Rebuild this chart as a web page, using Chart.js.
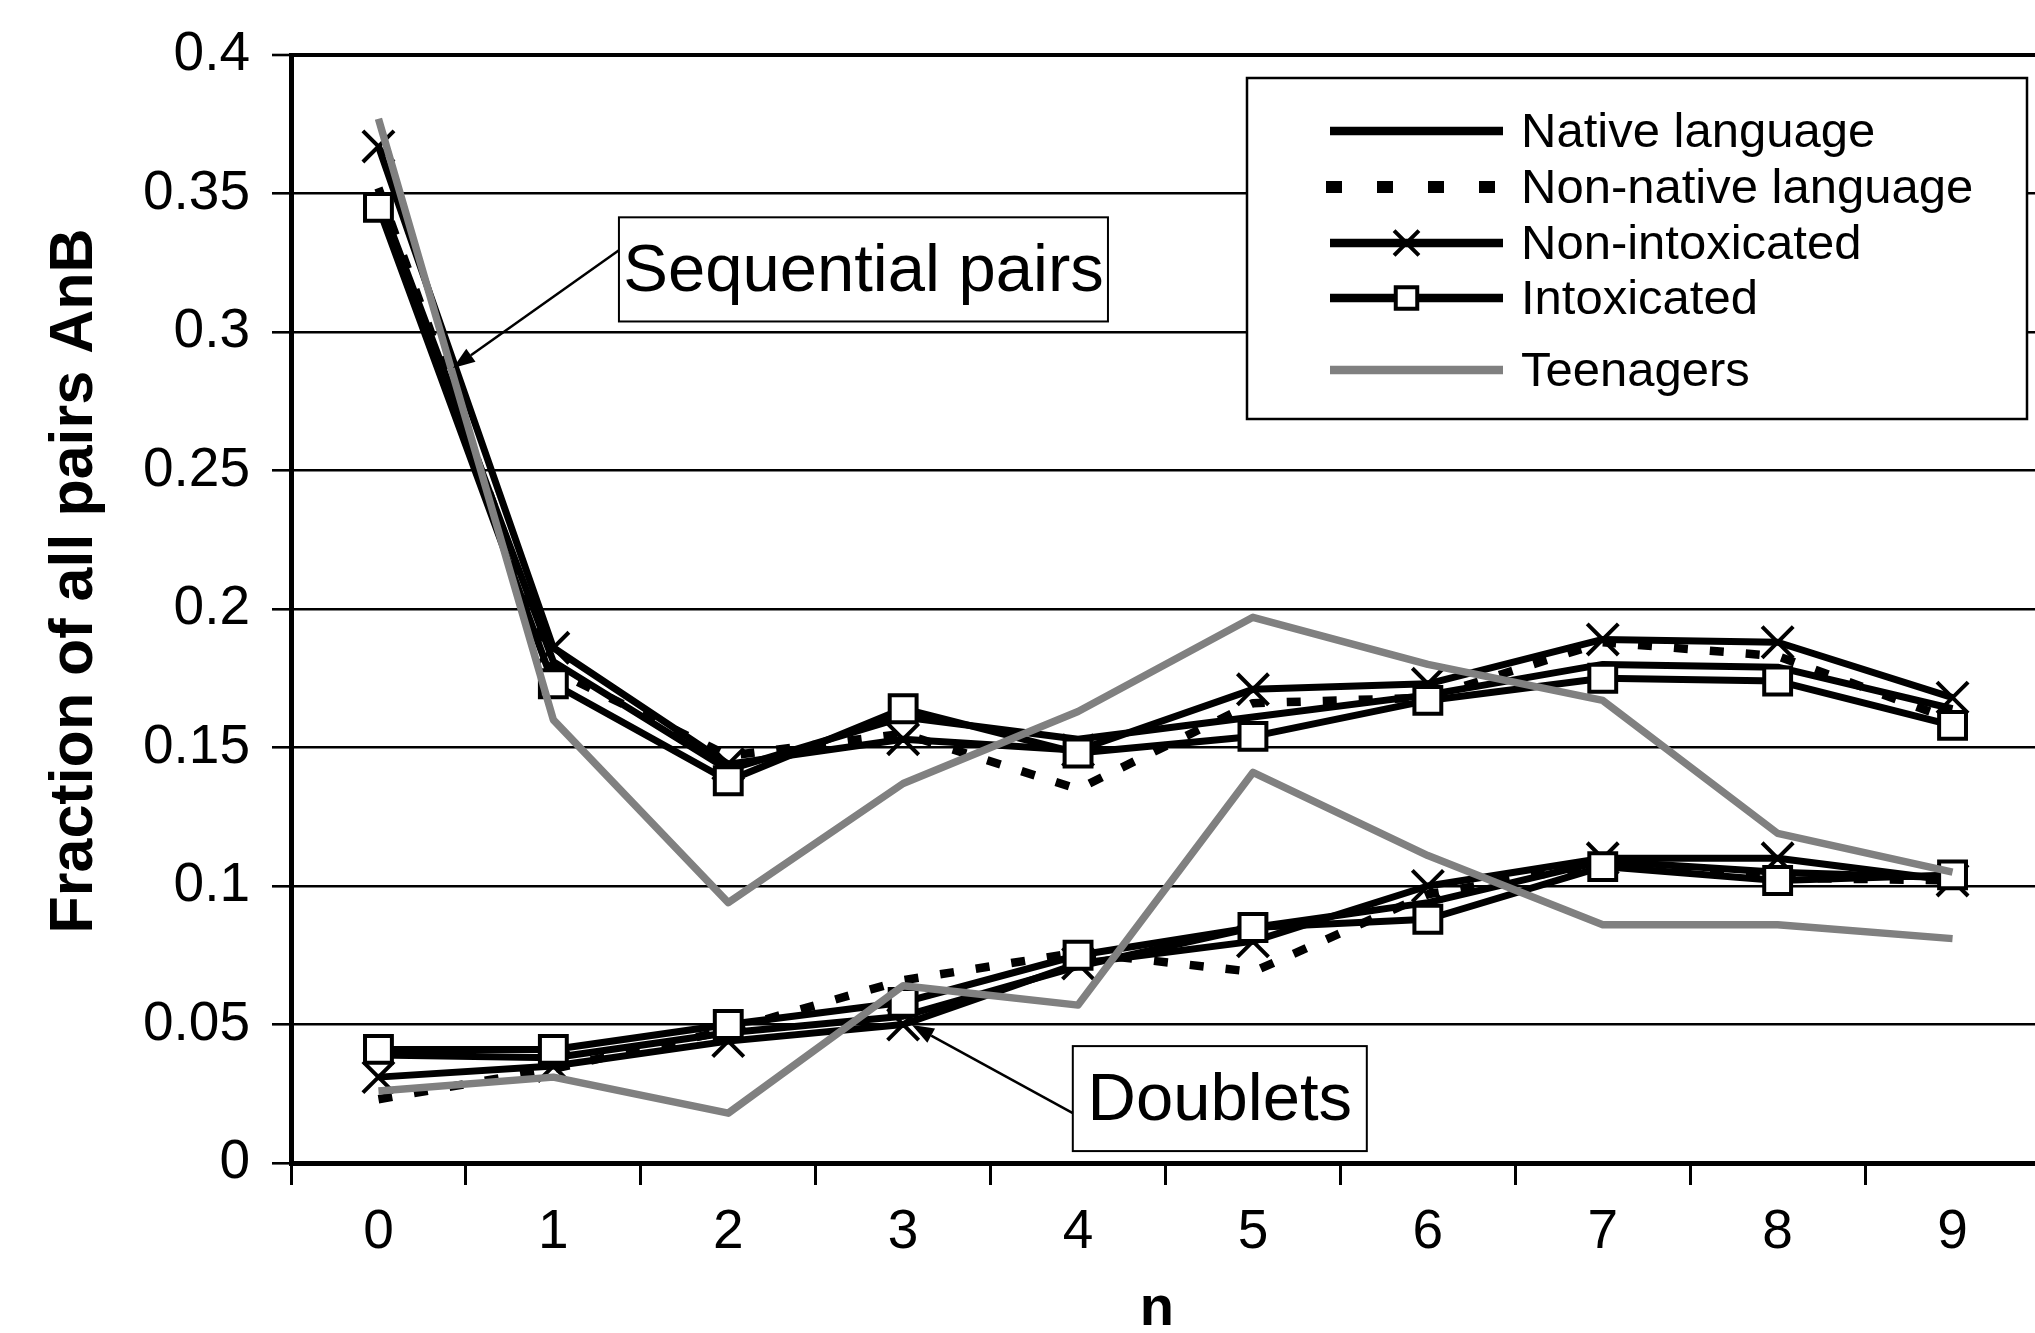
<!DOCTYPE html>
<html><head><meta charset="utf-8">
<script src="https://cdn.jsdelivr.net/npm/chart.js@4.4.1/dist/chart.umd.min.js"></script>
<style>
html,body{margin:0;padding:0;background:#fff;overflow:hidden;width:2035px;height:1333px}
#wrap{position:absolute;left:0;top:0;width:2066px;height:1333px}
</style></head>
<body><div id="wrap"><canvas id="c" width="2066" height="1333"></canvas></div>
<script>
// ---------- data ----------
const categories = ['0','1','2','3','4','5','6','7','8','9'];
const yTickLabels = ['0','0.05','0.1','0.15','0.2','0.25','0.3','0.35','0.4'];
const seriesNames = ['Native language','Non-native language','Non-intoxicated','Intoxicated','Teenagers'];
const xTitle = 'n';
const yTitle = 'Fraction of all pairs AnB';
const annotationTexts = ['Sequential pairs','Doublets'];

// Sequential pairs (upper group)
const seqNative    = [0.349, 0.181, 0.142, 0.161, 0.153, 0.161, 0.169, 0.180, 0.179, 0.164];
const seqNonNative = [0.352, 0.178, 0.147, 0.155, 0.135, 0.166, 0.168, 0.188, 0.183, 0.160];
const seqNonIntox  = [0.367, 0.186, 0.144, 0.153, 0.149, 0.171, 0.173, 0.189, 0.188, 0.168];
const seqIntox     = [0.345, 0.173, 0.138, 0.164, 0.148, 0.154, 0.167, 0.175, 0.174, 0.158];
const seqTeen      = [0.377, 0.160, 0.094, 0.137, 0.163, 0.197, 0.180, 0.167, 0.119, 0.105];

// Doublets (lower group)
const dblNative    = [0.039, 0.038, 0.047, 0.053, 0.071, 0.085, 0.094, 0.109, 0.105, 0.103];
const dblNonNative = [0.023, 0.034, 0.048, 0.066, 0.076, 0.069, 0.097, 0.108, 0.103, 0.102];
const dblNonIntox  = [0.031, 0.035, 0.044, 0.050, 0.072, 0.080, 0.100, 0.110, 0.110, 0.102];
const dblIntox     = [0.041, 0.041, 0.050, 0.058, 0.075, 0.085, 0.088, 0.107, 0.102, 0.104];
const dblTeen      = [0.026, 0.031, 0.018, 0.064, 0.057, 0.141, 0.111, 0.086, 0.086, 0.081];

// ---------- styles ----------
const FONT = "'Liberation Sans', Arial, Helvetica, sans-serif";
const styles = [
  {borderColor:'#000', borderWidth:7, pointRadius:0, borderDash:[]},
  {borderColor:'#000', borderWidth:8.5, pointRadius:0, borderDash:[14,22]},
  {borderColor:'#000', borderWidth:7, pointStyle:'crossRot', pointRadius:22, pointBorderWidth:4, borderDash:[]},
  {borderColor:'#000', borderWidth:7, pointStyle:'rect', pointRadius:19, pointBorderWidth:4, pointBackgroundColor:'#fff', borderDash:[]},
  {borderColor:'#808080', borderWidth:7.5, pointRadius:0, borderDash:[]}
];
const orders = [3,4,2,1,0];

function makeSet(label, data, k){
  const s = styles[k];
  return Object.assign({
    label, data, fill:false, tension:0, order:orders[k],
    pointBorderColor:s.borderColor, pointBackgroundColor:'#fff',
    pointHoverRadius: s.pointRadius, borderCapStyle:'butt', borderJoinStyle:'round'
  }, s);
}
const seqSeries = [seqNative, seqNonNative, seqNonIntox, seqIntox, seqTeen];
const dblSeries = [dblNative, dblNonNative, dblNonIntox, dblIntox, dblTeen];
const datasets = [];
seqSeries.forEach((d,k)=>datasets.push(makeSet(seriesNames[k]+' ('+annotationTexts[0]+')', d, k)));
dblSeries.forEach((d,k)=>datasets.push(makeSet(seriesNames[k]+' ('+annotationTexts[1]+')', d, k)));

// annotation geometry in data coordinates (category index, value)
const annotations = [
  {text:annotationTexts[0], box:[1.375,0.3414,4.171,0.3038], from:[1.375,0.3295], to:[0.426,0.287]},
  {text:annotationTexts[1], box:[3.97,0.0422,5.651,0.0043], from:[3.97,0.018], to:[3.05,0.0498]}
];

function drawMarker(ctx, s, x, y){
  if (!s.pointStyle || !s.pointRadius) return;
  ctx.save();
  ctx.setLineDash([]);
  ctx.strokeStyle = s.borderColor; ctx.lineWidth = s.pointBorderWidth;
  if (s.pointStyle === 'crossRot'){
    const r = s.pointRadius*Math.SQRT1_2;
    ctx.beginPath();
    ctx.moveTo(x-r,y-r); ctx.lineTo(x+r,y+r);
    ctx.moveTo(x-r,y+r); ctx.lineTo(x+r,y-r);
    ctx.stroke();
  } else if (s.pointStyle === 'rect'){
    const r = s.pointRadius*Math.SQRT1_2;
    ctx.fillStyle = '#fff';
    ctx.fillRect(x-r,y-r,2*r,2*r);
    ctx.strokeRect(x-r,y-r,2*r,2*r);
  }
  ctx.restore();
}

const overlay = {
  id:'overlay',
  afterDraw(chart){
    const ctx = chart.ctx, xs = chart.scales.x, ys = chart.scales.y;
    const x0 = xs.getPixelForValue(0), dx = xs.getPixelForValue(1) - x0;
    const px = v => x0 + v*dx;
    const py = v => ys.getPixelForValue(v);
    ctx.save();
    // axis titles
    ctx.fillStyle = '#000';
    ctx.textAlign = 'center'; ctx.textBaseline = 'middle';
    ctx.font = 'bold 56px ' + FONT;
    ctx.fillText(xTitle, px(4.45), 1310);
    ctx.save();
    ctx.translate(75, (chart.chartArea.top + chart.chartArea.bottom)/2 - 28);
    ctx.rotate(-Math.PI/2);
    ctx.font = 'bold 61px ' + FONT;
    ctx.fillText(yTitle, 0, 0);
    ctx.restore();
    // annotations
    annotations.forEach(a=>{
      const L = px(a.box[0]), T = py(a.box[1]), R = px(a.box[2]), B = py(a.box[3]);
      ctx.fillStyle = '#fff';
      ctx.fillRect(L,T,R-L,B-T);
      ctx.strokeStyle = '#000'; ctx.lineWidth = 2; ctx.setLineDash([]);
      ctx.strokeRect(L,T,R-L,B-T);
      ctx.fillStyle = '#000';
      ctx.font = '67px ' + FONT;
      ctx.textAlign = 'center'; ctx.textBaseline = 'middle';
      ctx.fillText(a.text, (L+R)/2, (T+B)/2 + 3);
      // arrow
      const fx = px(a.from[0]), fy = py(a.from[1]), tx = px(a.to[0]), ty = py(a.to[1]);
      const ang = Math.atan2(ty-fy, tx-fx), hl = 22, hw = 8;
      const bx = tx - hl*Math.cos(ang), by = ty - hl*Math.sin(ang);
      ctx.beginPath(); ctx.moveTo(fx,fy); ctx.lineTo(bx,by);
      ctx.lineWidth = 2.5; ctx.stroke();
      ctx.beginPath();
      ctx.moveTo(tx,ty);
      ctx.lineTo(bx + hw*Math.sin(ang), by - hw*Math.cos(ang));
      ctx.lineTo(bx - hw*Math.sin(ang), by + hw*Math.cos(ang));
      ctx.closePath(); ctx.fill();
    });
    // legend
    const LB = [1247,78,2027,419];
    ctx.fillStyle = '#fff';
    ctx.fillRect(LB[0],LB[1],LB[2]-LB[0],LB[3]-LB[1]);
    ctx.strokeStyle = '#000'; ctx.lineWidth = 2.5;
    ctx.strokeRect(LB[0],LB[1],LB[2]-LB[0],LB[3]-LB[1]);
    const rows = [131,187,243,298,370];
    const sx0 = 1330, sx1 = 1503, tx = 1521;
    seriesNames.forEach((name,k)=>{
      const s = styles[k], yy = rows[k];
      ctx.save();
      ctx.strokeStyle = s.borderColor;
      ctx.lineWidth = k===1 ? 12 : 8.5;
      ctx.setLineDash(k===1 ? [16,35] : []);
      ctx.lineCap = 'butt';
      ctx.beginPath(); ctx.moveTo(sx0 + (k===1?-4:0), yy); ctx.lineTo(sx1, yy); ctx.stroke();
      ctx.restore();
      drawMarker(ctx, Object.assign({}, s, {pointRadius: s.pointRadius ? s.pointRadius*0.8 : 0}), (sx0+sx1)/2 - 10, yy);
      ctx.fillStyle = '#000';
      ctx.font = '49px ' + FONT;
      ctx.textAlign = 'left'; ctx.textBaseline = 'middle';
      ctx.fillText(name, tx, yy + 2);
    });
    ctx.restore();
  }
};

new Chart(document.getElementById('c'), {
  type:'line',
  data:{labels:categories, datasets},
  options:{
    responsive:false, animation:false, devicePixelRatio:1,
    layout:{padding:{left:0, top:54, right:6, bottom:0}},
    plugins:{legend:{display:false}, tooltip:{enabled:false}},
    elements:{line:{tension:0}},
    scales:{
      x:{
        type:'category', offset:true,
        grid:{drawOnChartArea:false, drawTicks:true, tickLength:22, tickWidth:3, tickColor:'#000', offset:true},
        border:{display:true, color:'#000', width:5},
        ticks:{color:'#000', font:{family:FONT, size:55}, padding:15, autoSkip:false, maxRotation:0},
        title:{display:false, text:xTitle},
        afterFit(s){ s.height = 170; }
      },
      y:{
        min:0, max:0.4,
        ticks:{stepSize:0.05, color:'#000', font:{family:FONT, size:55}, padding:22,
               callback:(v,i)=>yTickLabels[i]},
        grid:{color:'#000', lineWidth:c=> (c.tick && c.tick.value>0.399) ? 4 : 2.6,
              drawTicks:true, tickLength:19, tickWidth:2.6, tickColor:'#000'},
        border:{display:true, color:'#000', width:5},
        title:{display:false, text:yTitle},
        afterFit(s){ s.width = 291; }
      }
    }
  },
  plugins:[overlay]
});
</script>
</body></html>
